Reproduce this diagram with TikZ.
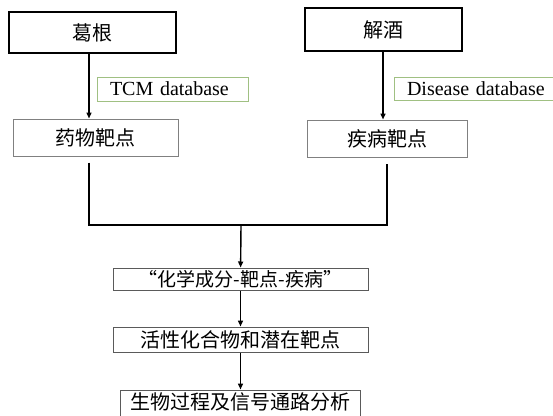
\documentclass[tikz,border=0pt]{standalone}
\usepackage{fontspec}
\setmainfont{Liberation Serif}
\newfontfamily\cjk{Noto Sans CJK SC}
\usetikzlibrary{positioning,arrows.meta}

\definecolor{dbgreen}{RGB}{160,192,130}
\definecolor{boxgray}{RGB}{128,128,128}

\begin{document}
\begin{tikzpicture}[
			x=1pt,y=1pt,
			>={Triangle[length=6pt,width=5pt]},
			every node/.style={
					inner sep=0pt,
					align=center,
					font=\cjk\fontsize{20}{22}\selectfont
				},
			topbox/.style={draw=black,line width=1.5pt},
			targetbox/.style={draw=boxgray,line width=1pt},
			dbbox/.style={draw=dbgreen,line width=1pt,align=left,inner xsep=13pt,
					font=\fontsize{20}{22}\selectfont},
			flowbox/.style={draw=boxgray!70!black,line width=1pt,
					minimum width=255pt},
			link/.style={line width=1.4pt}
		]
		\useasboundingbox (0,0) rectangle (553,-415);

		\node[topbox,minimum width=167pt,minimum height=41pt] (gegen) at (92.5,-32.5)
		{葛根};

		\node[topbox,minimum width=157pt,minimum height=43pt] (jiejiu) at (383.5,-29.5)
		{解酒};

		\node[dbbox,text width=125pt,minimum height=24pt] (tcm) at (172.5,-89)
		{TCM database};

		\node[dbbox,text width=138pt,minimum height=23pt] (disdb) at (476,-88.5)
		{Disease database};

		\node[targetbox,minimum width=165pt,minimum height=37pt] (drug) at (95.5,-137.5)
		{药物靶点};

		\node[targetbox,minimum width=160pt,minimum height=37pt] (disease) at (387,-138.5)
		{疾病靶点};

		\coordinate (join) at (241,-225);

		\node[flowbox,minimum height=22pt] (network) at (240.5,-279)
		{\fontsize{19}{20}\selectfont “化学成分-靶点-疾病”};

		\node[flowbox,minimum height=25pt,below=36pt of network] (active)
		{活性化合物和潜在靶点};

		% box runs past the lower edge, text sits high in it
		\node[flowbox,minimum width=240pt,minimum height=34pt,text height=18pt,
			text depth=14pt,below=37pt of active] (pathway)
		{生物过程及信号通路分析};

		\draw[link,->] ([xshift=-3.5pt]gegen.south)--([xshift=-6.5pt]drug.north);
		\draw[link,->] ([xshift=-0.5pt]jiejiu.south)--([xshift=-4pt]disease.north);

		\draw[link] ([xshift=-6.5pt,yshift=-6pt]drug.south) |- (join)
		-| ([yshift=-6pt]disease.south);

		\draw[link,->] (join)--(network);
		\draw[link,->] (network)--(active);
		\draw[link,->] (active)--(pathway);

	\end{tikzpicture}
\end{document}
